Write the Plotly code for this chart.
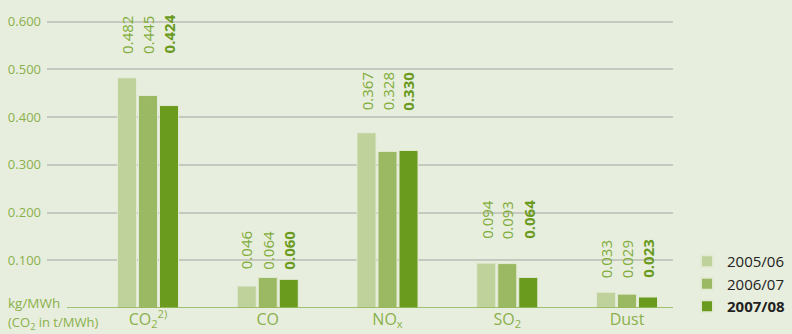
import plotly.graph_objects as go

categories = ["CO<sub>2</sub><sup>2)</sup>", "CO", "NO<sub>x</sub>", "SO<sub>2</sub>", "Dust"]
series_names = ["2005/06", "2006/07", "2007/08"]
v_2005 = [0.482, 0.046, 0.367, 0.094, 0.033]
v_2006 = [0.445, 0.064, 0.328, 0.093, 0.029]
v_2007 = [0.424, 0.060, 0.330, 0.064, 0.023]
y_ticks = [0.1, 0.2, 0.3, 0.4, 0.5, 0.6]
y_tick_labels = ["0.100", "0.200", "0.300", "0.400", "0.500", "0.600"]

series = [v_2005, v_2006, v_2007]
colors = ["#bfd29b", "#9bb862", "#6a9a1e"]
legend_names = ["2005/06", "2006/07", "<b>2007/08</b>"]
label_colors = ["#7fac3a", "#7fac3a", "#6a9a1e"]
label_pad = [22, 6, 20, 22, 12]  # px gap between group's tallest bar and its labels

W, H = 792, 334
L, R = 47, 673
B = 308
ymax = 0.62
pxu = (308 - 22) / 0.6
T = B - ymax * pxu

BG = "#e8eedd"
TXT = "#8ab04c"
FONT = "Open Sans, Liberation Sans, sans-serif"

fig = go.Figure()
for vals, col, nm in zip(series, colors, legend_names):
    fig.add_trace(go.Bar(
        x=categories, y=vals, name=nm,
        marker=dict(color=col, line=dict(color="#e2ead3", width=1)),
        hoverinfo="skip",
    ))

slot = 21
for i, cat in enumerate(categories):
    gmax = max(s[i] for s in series)
    for j, s in enumerate(series):
        txt = f"{s[i]:.3f}"
        if j == 2:
            txt = f"<b>{txt}</b>"
        fig.add_annotation(
            x=cat, y=gmax, xref="x", yref="y",
            xshift=(j - 1) * slot, yshift=label_pad[i],
            text=txt, textangle=-90, showarrow=False,
            xanchor="center", yanchor="bottom",
            font=dict(family=FONT, size=15, color=label_colors[j]),
        )

# baseline
fig.add_shape(type="line", xref="paper", yref="y",
              x0=(67 - L) / (R - L), x1=1, y0=0, y1=0,
              line=dict(color="#8ab04c", width=1.5))

fig.add_annotation(text="kg/MWh", xref="paper", yref="paper",
                   x=-(L - 6) / (R - L), y=(B - 303) / (B - T),
                   xanchor="left", yanchor="middle", showarrow=False,
                   font=dict(family=FONT, size=13.5, color=TXT))
fig.add_annotation(text="(CO<sub>2</sub> in t/MWh)", xref="paper", yref="paper",
                   x=-(L - 6) / (R - L), y=(B - 323) / (B - T),
                   xanchor="left", yanchor="middle", showarrow=False,
                   font=dict(family=FONT, size=13, color=TXT))

fig.update_layout(
    width=W, height=H,
    margin=dict(l=L, r=W - R, t=T, b=H - B, pad=0, autoexpand=False),
    paper_bgcolor=BG, plot_bgcolor=BG,
    barmode="group", bargap=0.474, bargroupgap=0.095,
    showlegend=True,
    legend=dict(
        xref="container", yref="container",
        x=687 / W, y=1 - 245 / H, xanchor="left", yanchor="top",
        bgcolor="rgba(0,0,0,0)", font=dict(family=FONT, size=15, color="#222222"),
        tracegroupgap=0, itemsizing="constant",
    ),
    xaxis=dict(
        range=[-(148 - L) / 119.75, len(categories) - 1 + (R - 627) / 119.75],
        showgrid=False, zeroline=False, showline=False, ticks="",
        tickfont=dict(family=FONT, size=16, color=TXT),
        fixedrange=True, automargin=False,
    ),
    yaxis=dict(
        range=[0, ymax], tickvals=y_ticks, ticktext=y_tick_labels,
        showgrid=True, gridcolor="#c6c9bf", gridwidth=1.5,
        zeroline=False, showline=False, ticks="",
        tickfont=dict(family=FONT, size=13, color=TXT),
        ticklabelstandoff=5, automargin=False,
    ),
)

fig.write_html("out.html")
